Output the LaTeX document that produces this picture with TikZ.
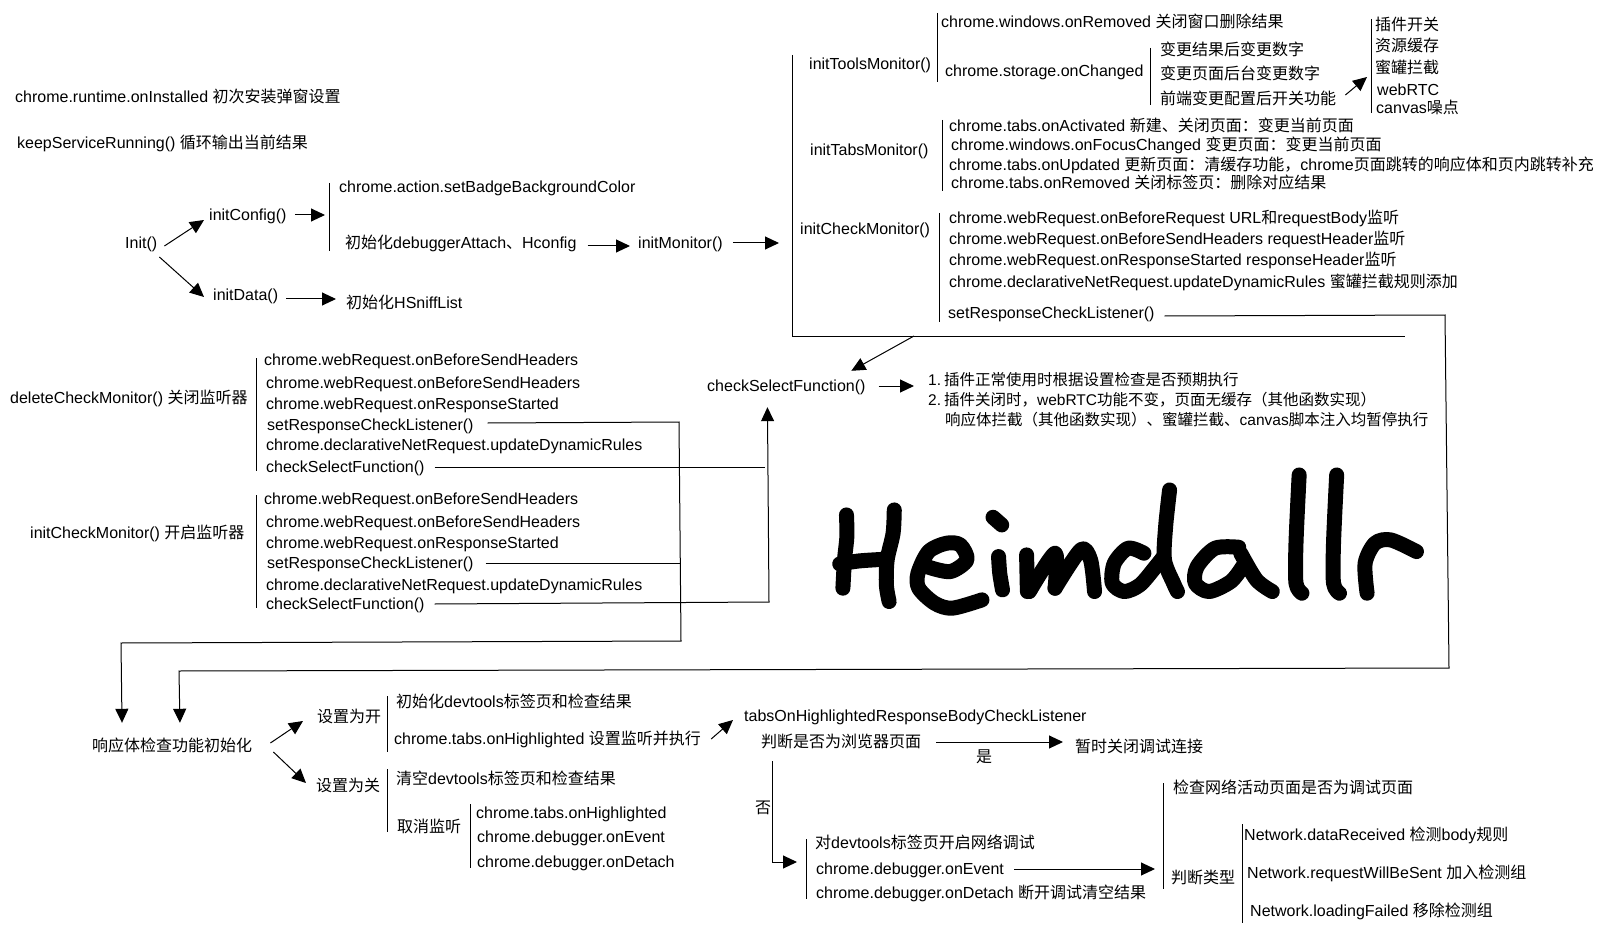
\documentclass[tikz,border=0pt]{standalone}
\usepackage{fontspec}
\setmainfont{Liberation Sans}
\newfontfamily\cjk{Noto Sans CJK SC}
\newcommand{\zh}[1]{{\cjk #1}}
\usetikzlibrary{arrows.meta}

\begin{document}
\begin{tikzpicture}[x=1pt,y=-1pt,
    txt/.style={inner sep=0pt,anchor=west,text height=13.5pt,text depth=2.5pt,font=\fontsize{16}{19}\selectfont},
    note/.style={txt,font=\fontsize{15.5}{19}\selectfont},
    flow/.style={-{Triangle[length=14pt,width=13pt]},line width=1pt},
    wire/.style={line width=1pt},
    hand/.style={line width=15pt,line cap=round,line join=round}]
    \useasboundingbox (0,0) rectangle (1606,933);

    % top left
    \node[txt] (installed) at (15,97) {chrome.runtime.onInstalled \zh{初次安装弹窗设置}};
    \node[txt] (keep_run) at (17,143) {keepServiceRunning() \zh{循环输出当前结果}};
    \node[txt] (init) at (125,243) {Init()};
    \node[txt] (init_cfg) at (209,215) {initConfig()};
    \node[txt] (init_data) at (213,295) {initData()};
    \node[txt] (cfg_badge) at (339,187) {chrome.action.setBadgeBackgroundColor};
    \node[txt] (cfg_dbg) at (345,243) {\zh{初始化}debuggerAttach\zh{、}Hconfig};
    \node[txt] (sniff) at (346,303) {\zh{初始化}HSniffList};
    \node[txt] (init_mon) at (638,243) {initMonitor()};

    % monitors
    \node[txt] (tools_mon) at (809,64) {initToolsMonitor()};
    \node[txt] (tools_rm) at (941,22) {chrome.windows.onRemoved \zh{关闭窗口删除结果}};
    \node[txt] (tools_st) at (945,71) {chrome.storage.onChanged};
    \node[txt] (st_num) at (1160,50) {\zh{变更结果后变更数字}};
    \node[txt] (st_page) at (1160,74) {\zh{变更页面后台变更数字}};
    \node[txt] (st_cfg) at (1160,99) {\zh{前端变更配置后开关功能}};
    \node[txt] (ft_plug) at (1375,25) {\zh{插件开关}};
    \node[txt] (ft_cache) at (1375,46) {\zh{资源缓存}};
    \node[txt] (ft_pot) at (1375,68) {\zh{蜜罐拦截}};
    \node[txt] (ft_rtc) at (1377,90) {webRTC};
    \node[txt] (ft_canvas) at (1376,108) {canvas\zh{噪点}};

    \node[txt] (tabs_mon) at (810,150) {initTabsMonitor()};
    \node[txt] (tabs_act) at (949,126) {chrome.tabs.onActivated \zh{新建、关闭页面：变更当前页面}};
    \node[txt] (tabs_foc) at (951,145) {chrome.windows.onFocusChanged \zh{变更页面：变更当前页面}};
    \node[txt] (tabs_upd) at (949,165) {chrome.tabs.onUpdated \zh{更新页面：清缓存功能，}chrome\zh{页面跳转的响应体和页内跳转补充}};
    \node[txt] (tabs_rm) at (951,183) {chrome.tabs.onRemoved \zh{关闭标签页：删除对应结果}};

    \node[txt] (chk_mon) at (800,229) {initCheckMonitor()};
    \node[txt] (chk_req) at (949,218) {chrome.webRequest.onBeforeRequest URL\zh{和}requestBody\zh{监听}};
    \node[txt] (chk_snd) at (949,239) {chrome.webRequest.onBeforeSendHeaders requestHeader\zh{监听}};
    \node[txt] (chk_rsp) at (949,260) {chrome.webRequest.onResponseStarted responseHeader\zh{监听}};
    \node[txt] (chk_dyn) at (949,282) {chrome.declarativeNetRequest.updateDynamicRules \zh{蜜罐拦截规则添加}};
    \node[txt] (chk_set) at (948,313) {setResponseCheckListener()};

    % delete and init groups
    \node[txt] (del_mon) at (10,398) {deleteCheckMonitor() \zh{关闭监听器}};
    \node[txt] (del_req) at (264,360) {chrome.webRequest.onBeforeSendHeaders};
    \node[txt] (del_snd) at (266,383) {chrome.webRequest.onBeforeSendHeaders};
    \node[txt] (del_rsp) at (266,404) {chrome.webRequest.onResponseStarted};
    \node[txt] (del_set) at (267,425) {setResponseCheckListener()};
    \node[txt] (del_dyn) at (266,445) {chrome.declarativeNetRequest.updateDynamicRules};
    \node[txt] (del_chk) at (266,467) {checkSelectFunction()};

    \node[txt] (ini_mon) at (30,533) {initCheckMonitor() \zh{开启监听器}};
    \node[txt] (ini_req) at (264,499) {chrome.webRequest.onBeforeSendHeaders};
    \node[txt] (ini_snd) at (266,522) {chrome.webRequest.onBeforeSendHeaders};
    \node[txt] (ini_rsp) at (266,543) {chrome.webRequest.onResponseStarted};
    \node[txt] (ini_set) at (267,563) {setResponseCheckListener()};
    \node[txt] (ini_dyn) at (266,585) {chrome.declarativeNetRequest.updateDynamicRules};
    \node[txt] (ini_chk) at (266,604) {checkSelectFunction()};

    \node[txt] (check) at (707,386) {checkSelectFunction()};
    \node[note] (list_a) at (928,380) {1.\hspace{3pt}\zh{插件正常使用时根据设置检查是否预期执行}};
    \node[note] (list_b) at (928,400) {2.\hspace{3pt}\zh{插件关闭时，}webRTC\zh{功能不变，页面无缓存（其他函数实现）}};
    \node[note] (list_c) at (945,420) {\zh{响应体拦截（其他函数实现）、蜜罐拦截、}canvas\zh{脚本注入均暂停执行}};

    % bottom
    \node[txt] (resp) at (92,746) {\zh{响应体检查功能初始化}};
    \node[txt] (set_on) at (317,717) {\zh{设置为开}};
    \node[txt] (set_off) at (316,786) {\zh{设置为关}};
    \node[txt] (on_dev) at (396,702) {\zh{初始化}devtools\zh{标签页和检查结果}};
    \node[txt] (on_high) at (394,739) {chrome.tabs.onHighlighted \zh{设置监听并执行}};
    \node[txt] (off_dev) at (396,779) {\zh{清空}devtools\zh{标签页和检查结果}};
    \node[txt] (off_can) at (397,827) {\zh{取消监听}};
    \node[txt] (can_high) at (476,813) {chrome.tabs.onHighlighted};
    \node[txt] (can_evt) at (477,837) {chrome.debugger.onEvent};
    \node[txt] (can_det) at (477,862) {chrome.debugger.onDetach};

    \node[txt] (tabs_lis) at (744,716) {tabsOnHighlightedResponseBodyCheckListener};
    \node[txt] (is_brow) at (761,742) {\zh{判断是否为浏览器页面}};
    \node[txt] (pause) at (1075,747) {\zh{暂时关闭调试连接}};
    \node[txt] (yes_lab) at (976,757) {\zh{是}};
    \node[txt] (no_lab) at (755,808) {\zh{否}};
    \node[txt] (dbg_dev) at (815,843) {\zh{对}devtools\zh{标签页开启网络调试}};
    \node[txt] (dbg_evt) at (816,869) {chrome.debugger.onEvent};
    \node[txt] (dbg_det) at (816,893) {chrome.debugger.onDetach \zh{断开调试清空结果}};
    \node[txt] (net_page) at (1173,788) {\zh{检查网络活动页面是否为调试页面}};
    \node[txt] (net_type) at (1171,878) {\zh{判断类型}};
    \node[txt] (net_data) at (1244,835) {Network.dataReceived \zh{检测}body\zh{规则}};
    \node[txt] (net_sent) at (1247,873) {Network.requestWillBeSent \zh{加入检测组}};
    \node[txt] (net_fail) at (1250,911) {Network.loadingFailed \zh{移除检测组}};

    % bars next to the groups
    \foreach \n/\x/\ya/\yb in {cfg/329/183/251,tools/937/13/82,stor/1150/48/105,feat/1371/19/113,
        tabs/942/120/191,chk/939/213/322,del/256/358/471,ini/256/495/608,
        on/387/696/752,off/387/769/832,can/470/804/868,dbg/806/839/899,
        net/1163/783/889,type/1242/824/923}{
      \coordinate (\n_a) at (\x,\ya);
      \coordinate (\n_b) at (\x,\yb);
      \draw[wire] (\n_a) -- (\n_b);
    }

    \coordinate (mon_a) at (792,55);
    \coordinate (mon_b) at (792,336);
    \coordinate (mon_c) at (1405,336);
    \coordinate (mon_out) at (914,336);
    \coordinate (feat_in) at (1367,77);
    \coordinate (route_a) at (1445,315);
    \coordinate (route_b) at (1449,668);
    \coordinate (route_c) at (179,671);
    \coordinate (route_d) at (679,422);
    \coordinate (route_e) at (681,641);
    \coordinate (route_f) at (121,643);
    \coordinate (route_g) at (765,467);
    \coordinate (route_h) at (769,602);
    \coordinate (dbg_in) at (797,862);
    \draw[wire] (mon_a) -- (mon_b) -- (mon_c);

    \draw[flow] ([shift={(7,3)}]init.east) -- ([shift={(-5,5)}]init_cfg.west);
    \draw[flow] ([shift={(2,14)}]init.east) -- ([shift={(-9,2)}]init_data.west);
    \draw[flow,shorten <=8pt,shorten >=4pt] (init_cfg.east) -- (init_cfg.east -| cfg_a);
    \draw[flow,shorten <=11pt,shorten >=8pt] ([yshift=-3pt]cfg_dbg.east) -- ([yshift=-3pt]init_mon.west);
    \draw[flow,shorten <=10pt,shorten >=13pt] (init_mon.east) -- (init_mon.east -| mon_a);
    \draw[flow,shorten <=8pt,shorten >=10pt] ([yshift=-4pt]init_data.east) -- ([yshift=4pt]sniff.west);
    \draw[flow] ([shift={(9,-4)}]st_cfg.east) -- (feat_in);

    \draw[flow,shorten >=15pt] ([shift={(10,3)}]chk_set.east) -- (route_a) -- (route_b) -- (route_c) -- ([xshift=8pt]resp.north);
    \draw[flow,shorten >=15pt] ([shift={(14,-2)}]del_set.east) -- (route_d) -- (route_e) -- (route_f) -- ([xshift=-50pt]resp.north);
    \draw[wire,shorten <=12pt] (ini_set.east) -- (ini_set.east -| route_e);
    \draw[wire,shorten <=10pt] (del_chk.east) -- (route_g);
    \draw[flow,shorten >=13pt] ([xshift=10pt]ini_chk.east) -- (route_h) -- ([xshift=-19pt]check.south);
    \draw[flow] (mon_out) -- ([shift={(65,-7)}]check.north);
    \draw[flow,shorten <=13pt,shorten >=14pt] (check.east) -- (check.east -| list_a.west);

    \draw[flow] ([shift={(18,-3)}]resp.east) -- ([shift={(-14,4)}]set_on.west);
    \draw[flow] ([shift={(21,6)}]resp.east) -- ([shift={(-10,-3)}]set_off.west);
    \draw[flow] ([shift={(10,0)}]on_high.east) -- ([shift={(-11,4)}]tabs_lis.west);
    \draw[flow,shorten <=15pt,shorten >=12pt] (is_brow.east) -- (is_brow.east -| pause.west);
    \draw[flow,shorten <=11pt] ([xshift=-69pt]is_brow.south) |- (dbg_in);
    \draw[flow,shorten <=10pt,shorten >=8pt] (dbg_evt.east) -- (dbg_evt.east -| net_a);

    % handwritten title
    \begin{scope}[shift={(820,460)},xscale=.395,yscale=.333]
      \draw[hand] plot[smooth] coordinates {(67,165) (68,230) (62,300) (58,385)};
      \draw[hand] plot[smooth] coordinates {(50,312) (100,303) (165,298)};
      \draw[hand] plot[smooth] coordinates {(188,150) (185,220) (170,300) (168,375) (175,425)};
      \draw[hand] plot[smooth] coordinates {(275,322) (330,335) (372,300) (355,255) (320,250) (275,275) (248,340) (250,385) (290,430) (335,445) (410,420)};
      \draw[hand] plot[smooth] coordinates {(452,290) (455,340) (462,390)};
      \draw[hand] plot[smooth] coordinates {(438,172) (460,195)};
      \draw[hand] plot[smooth] coordinates {(525,395) (523,285)};
      \draw[hand] plot[smooth] coordinates {(530,395) (595,280) (595,385)};
      \draw[hand] plot[smooth] coordinates {(595,385) (660,270) (685,300) (695,395)};
      \draw[hand] plot[smooth] coordinates {(820,280) (780,265) (745,310) (740,370) (770,395) (810,375) (850,320) (870,290)};
      \draw[hand] plot[smooth] coordinates {(885,90) (875,200) (872,300) (895,370) (905,395)};
      \draw[hand] plot[smooth] coordinates {(1060,262) (1000,265) (955,320) (950,370) (985,395) (1040,365) (1070,320)};
      \draw[hand] plot[smooth] coordinates {(1065,280) (1105,360) (1145,395)};
      \draw[hand] plot[smooth] coordinates {(1213,45) (1205,250) (1205,370) (1220,400)};
      \draw[hand] plot[smooth] coordinates {(1308,45) (1300,250) (1300,370) (1315,400)};
      \draw[hand] plot[smooth] coordinates {(1385,400) (1380,310) (1405,250) (1445,240) (1510,275)};
    \end{scope}
\end{tikzpicture}
\end{document}
